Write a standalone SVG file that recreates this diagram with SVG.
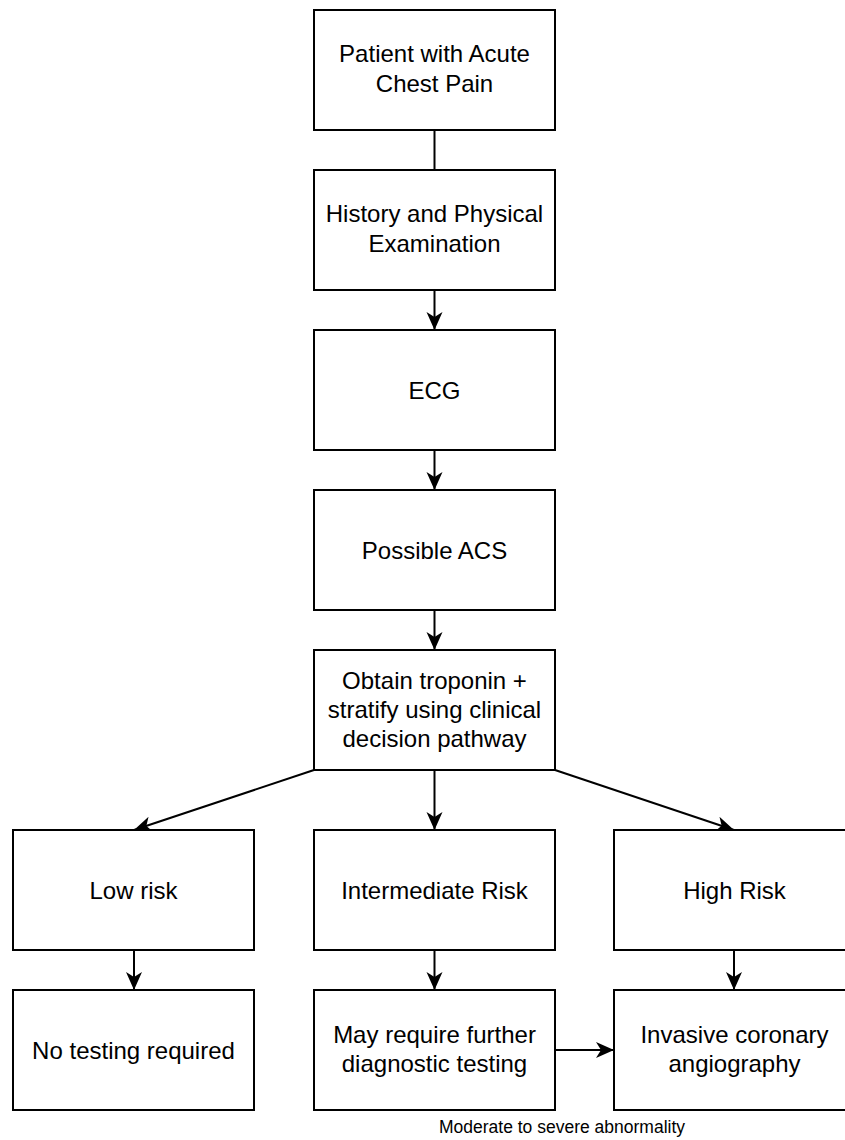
<svg xmlns="http://www.w3.org/2000/svg" width="845" height="1140" viewBox="0 0 845 1140">
<style>
.box{fill:#fff;stroke:#000;stroke-width:2}
.t{font-family:"Liberation Sans",Arial,sans-serif;font-size:24px;fill:#000;text-anchor:middle}
.lbl{font-family:"Liberation Sans",Arial,sans-serif;font-size:17.5px;fill:#000;text-anchor:middle}
.c{fill:none;stroke:#000;stroke-width:2}
</style>
<defs>
<marker id="ah" markerUnits="userSpaceOnUse" markerWidth="20" markerHeight="20" viewBox="0 0 20 20" refX="18" refY="10" orient="auto">
<path d="M0,2 L18,10 L0,18 L5,10 Z" fill="#000"/>
</marker>
</defs>
<rect width="845" height="1140" fill="#fff"/>
<g id="connectors">
<path class="c" d="M434.5,130 V170"/>
<path class="c" d="M434.5,290 V330" marker-end="url(#ah)"/>
<path class="c" d="M434.5,450 V490" marker-end="url(#ah)"/>
<path class="c" d="M434.5,610 V650" marker-end="url(#ah)"/>
<path class="c" d="M314,770 L134,830" marker-end="url(#ah)"/>
<path class="c" d="M434.5,770 V830" marker-end="url(#ah)"/>
<path class="c" d="M555,770 L734,830" marker-end="url(#ah)"/>
<path class="c" d="M134,950 V990" marker-end="url(#ah)"/>
<path class="c" d="M434.5,950 V990" marker-end="url(#ah)"/>
<path class="c" d="M734,950 V990" marker-end="url(#ah)"/>
<path class="c" d="M555,1050 H614" marker-end="url(#ah)"/>
</g>
<g id="n1"><rect class="box" x="314" y="10" width="241" height="120"/><text class="t" x="434.5" y="62">Patient with Acute</text><text class="t" x="434.5" y="92">Chest Pain</text></g>
<g id="n2"><rect class="box" x="314" y="170" width="241" height="120"/><text class="t" x="434.5" y="222">History and Physical</text><text class="t" x="434.5" y="252">Examination</text></g>
<g id="n3"><rect class="box" x="314" y="330" width="241" height="120"/><text class="t" x="434.5" y="398.5">ECG</text></g>
<g id="n4"><rect class="box" x="314" y="490" width="241" height="120"/><text class="t" x="434.5" y="558.5">Possible ACS</text></g>
<g id="n5"><rect class="box" x="314" y="650" width="241" height="120"/><text class="t" x="434.5" y="689">Obtain troponin +</text><text class="t" x="434.5" y="718">stratify using clinical</text><text class="t" x="434.5" y="747">decision pathway</text></g>
<g id="n6"><rect class="box" x="13" y="830" width="241" height="120"/><text class="t" x="133.5" y="898.5">Low risk</text></g>
<g id="n7"><rect class="box" x="314" y="830" width="241" height="120"/><text class="t" x="434.5" y="898.5">Intermediate Risk</text></g>
<g id="n8"><rect class="box" x="614" y="830" width="241" height="120"/><text class="t" x="734.5" y="898.5">High Risk</text></g>
<g id="n9"><rect class="box" x="13" y="990" width="241" height="120"/><text class="t" x="133.5" y="1058.5">No testing required</text></g>
<g id="n10"><rect class="box" x="314" y="990" width="241" height="120"/><text class="t" x="434.5" y="1043">May require further</text><text class="t" x="434.5" y="1072">diagnostic testing</text></g>
<g id="n11"><rect class="box" x="614" y="990" width="241" height="120"/><text class="t" x="734.5" y="1043">Invasive coronary</text><text class="t" x="734.5" y="1072">angiography</text></g>
<text class="lbl" x="562" y="1133">Moderate to severe abnormality</text>
</svg>
